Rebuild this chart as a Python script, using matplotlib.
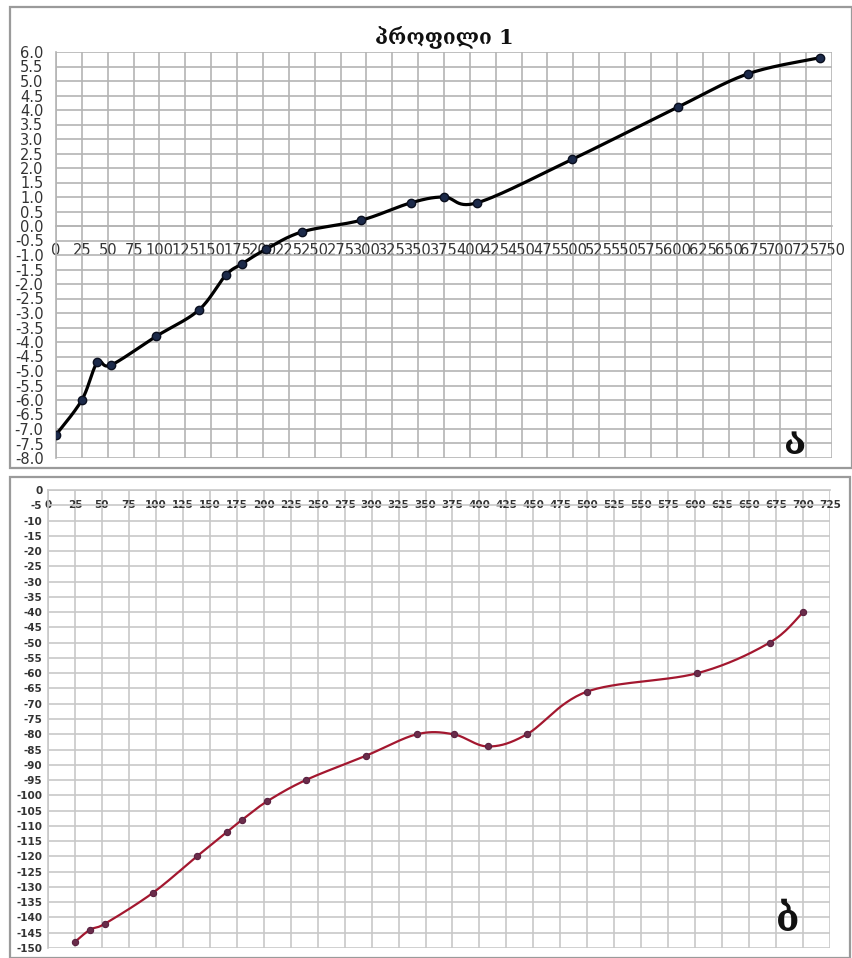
import numpy as np
import matplotlib.pyplot as plt
from matplotlib.patches import Rectangle

# profile 1 (top): distance vs. relative height
dist_a = [0, 25, 40, 53, 97, 138, 164, 180, 203, 238, 295, 343, 375, 407, 499, 601, 669, 738]
height_a = [-7.2, -6.0, -4.7, -4.8, -3.8, -2.9, -1.7, -1.3, -0.8, -0.2, 0.2, 0.8, 1.0, 0.8, 2.3, 4.1, 5.25, 5.8]

# profile (bottom): distance vs. depth
dist_b = [25, 39, 53, 97, 138, 166, 180, 203, 239, 295, 342, 376, 408, 444, 500, 602, 669, 700]
depth_b = [-148, -144, -142, -132, -120, -112, -108, -102, -95, -87, -80, -80, -84, -80, -66, -60, -50, -40]

title_a = "პროფილი 1"
xticks_a = np.arange(0, 751, 25)
yticks_a = np.arange(-8.0, 6.01, 0.5)
xticks_b = np.arange(0, 726, 25)
yticks_b = np.arange(-150, 1, 5)


def smooth(x, y, n=30):
    # spreadsheet-style smoothed line: cubic bezier through every point
    p = np.column_stack([x, y]).astype(float)
    p = np.vstack([p[0], p, p[-1]])
    out = []
    t = np.linspace(0, 1, n)[:, None]
    for i in range(1, len(p) - 2):
        p0, p1, p2, p3 = p[i - 1], p[i], p[i + 1], p[i + 2]
        c1 = p1 + (p2 - p0) / 6
        c2 = p2 - (p3 - p1) / 6
        seg = ((1 - t) ** 3) * p1 + 3 * ((1 - t) ** 2) * t * c1 + 3 * (1 - t) * t ** 2 * c2 + t ** 3 * p2
        out.append(seg)
    out = np.vstack(out)
    return out[:, 0], out[:, 1]


fig = plt.figure(figsize=(8.52, 9.58), dpi=100)
W, H = 852, 958


def box(x0, y0, x1, y1):
    return [x0 / W, 1 - y1 / H, (x1 - x0) / W, (y1 - y0) / H]


# panel frames
fig.add_artist(Rectangle((10 / W, 1 - 468 / H), 842 / W, 461 / H, transform=fig.transFigure,
                         fill=False, edgecolor="#9a9a9a", lw=1.6))
fig.add_artist(Rectangle((10 / W, 1 - 958 / H), 840 / W, 481 / H, transform=fig.transFigure,
                         fill=False, edgecolor="#9a9a9a", lw=1.6))

serif = ["DejaVu Serif", "DejaVu Sans"]

# ---- top panel ----
ax1 = fig.add_axes(box(56, 52, 832, 458))
ax1.set_xlim(0, 750)
ax1.set_ylim(-8, 6)
ax1.set_xticks(xticks_a)
ax1.set_xticklabels([str(v) for v in xticks_a])
ax1.set_yticks(yticks_a)
ax1.set_yticklabels([f"{v:.1f}" for v in yticks_a])
ax1.grid(True, color="#b4b4b4", lw=1.2)
ax1.set_axisbelow(True)
for s in ax1.spines.values():
    s.set_color("#b4b4b4")
    s.set_linewidth(1.2)
ax1.spines["bottom"].set_position(("data", 0))
ax1.spines["top"].set_visible(False)
ax1.spines["right"].set_visible(False)
ax1.tick_params(axis="x", length=0, pad=12, labelsize=10.5, labelcolor="#333333")
ax1.tick_params(axis="y", length=0, pad=9, labelsize=10.5, labelcolor="#333333")
sx, sy = smooth(dist_a, height_a)
ax1.plot(sx, sy, color="black", lw=2.3, zorder=3)
ax1.plot(dist_a, height_a, "o", ms=6, mfc="#1c2a4a", mec="#0a0f1f", mew=1, zorder=4)
ax1.text(0.5, 1.035, title_a, transform=ax1.transAxes, ha="center", va="center",
         fontsize=15, fontweight="bold", color="#111111", family=serif)
ax1.text(714, -7.5, "ა", ha="center", va="center", fontsize=27, fontweight="bold",
         color="#111111", family=serif)

# ---- bottom panel ----
ax2 = fig.add_axes(box(48, 490, 830, 948))
ax2.set_xlim(0, 725)
ax2.set_ylim(-150, 0)
ax2.set_xticks(xticks_b)
ax2.set_xticklabels([str(v) for v in xticks_b])
ax2.set_yticks(yticks_b)
ax2.set_yticklabels([str(v) for v in yticks_b])
ax2.grid(True, color="#c8c8c8", lw=1.2)
ax2.set_axisbelow(True)
for s in ax2.spines.values():
    s.set_color("#c8c8c8")
    s.set_linewidth(1.2)
ax2.spines["bottom"].set_position(("data", 0))
ax2.spines["top"].set_visible(False)
ax2.spines["right"].set_visible(False)
ax2.tick_params(axis="x", length=0, pad=7, labelsize=7.5, labelcolor="#333333")
ax2.tick_params(axis="y", length=0, pad=4, labelsize=7.5, labelcolor="#333333")
for lab in ax2.get_xticklabels() + ax2.get_yticklabels():
    lab.set_fontweight("bold")
sx, sy = smooth(dist_b, depth_b)
ax2.plot(sx, sy, color="#a3172f", lw=1.6, zorder=3)
ax2.plot(dist_b, depth_b, "o", ms=4.5, mfc="#6a2c4a", mec="#5a2040", mew=0.8, zorder=4)
ax2.text(686, -141, "ბ", ha="center", va="center", fontsize=27, fontweight="bold",
         color="#111111", family=serif)

fig.savefig("out.png", dpi=100)
